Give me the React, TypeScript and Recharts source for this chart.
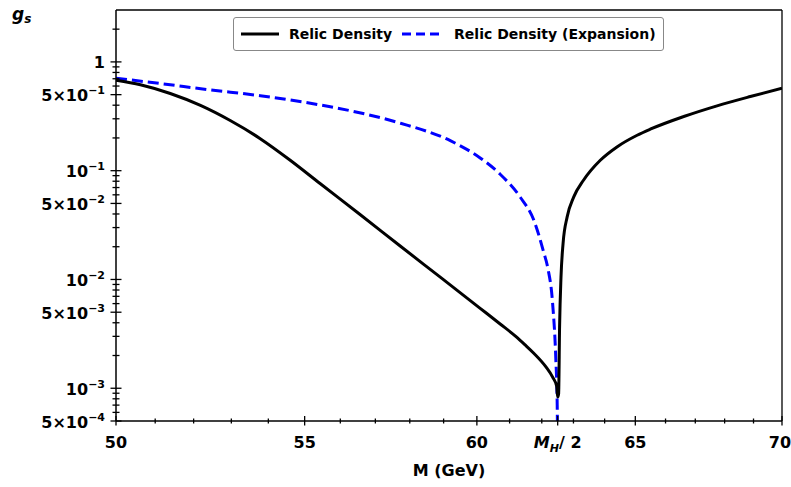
import { LineChart, Line, XAxis, YAxis, ReferenceLine } from 'recharts'

const FONT = '"DejaVu Sans", "Liberation Sans", sans-serif'

// Relic Density (solid black) : M in GeV, g_s
const relicM = [
  50.0, 50.62, 51.39, 52.18, 52.97, 53.78, 54.6, 55.43, 56.57, 57.72, 58.9, 60.1, 60.71, 61.19, 61.47, 61.75,
  62.125, 62.345, 62.47, 62.5,
  62.53, 62.56, 62.605, 62.67, 62.8, 63.01, 63.32, 63.86, 64.4, 65.06, 65.49, 66.61, 67.74, 68.89, 70.0,
]
const relicG = [
  0.679, 0.616, 0.512, 0.398, 0.289, 0.197, 0.1248, 0.0762, 0.0394, 0.0203, 0.0105, 0.00543, 0.0039, 0.003, 0.00252, 0.0021,
  0.00158, 0.00126, 0.00104, 0.00083,
  0.00089, 0.00366, 0.01054, 0.0214, 0.0376, 0.0574, 0.0817, 0.1247, 0.1654, 0.2118, 0.2405, 0.3147, 0.3947, 0.4807, 0.573,
]

// Relic Density (Expansion), dashed blue
const expM = [50.0, 51.13, 52.4, 53.78, 55.16, 56.28, 57.73, 59.2, 60.1, 60.71, 61.33, 61.75, 62.06, 62.19, 62.34, 62.44, 62.485, 62.5]
const expG = [0.708, 0.633, 0.555, 0.489, 0.417, 0.356, 0.273, 0.1886, 0.131, 0.0928, 0.057, 0.0352, 0.0178, 0.0127, 0.00604, 0.00189, 0.0007, 0.0002]

const xTicks = [50, 51, 52, 53, 54, 55, 56, 57, 58, 59, 60, 61, 62, 62.5, 63, 64, 65, 66, 67, 68, 69, 70]
const xMajor = [50, 55, 60, 62.5, 65, 70]

const yTicks = [
  0.0005, 0.0006, 0.0007, 0.0008, 0.0009,
  0.001, 0.002, 0.003, 0.004, 0.005, 0.006, 0.007, 0.008, 0.009,
  0.01, 0.02, 0.03, 0.04, 0.05, 0.06, 0.07, 0.08, 0.09,
  0.1, 0.2, 0.3, 0.4, 0.5, 0.6, 0.7, 0.8, 0.9,
  1, 2,
]
// base text + exponent
const yLabels: Record<string, [string, string]> = {
  '1': ['1', ''],
  '0.5': ['5×10', '−1'],
  '0.1': ['10', '−1'],
  '0.05': ['5×10', '−2'],
  '0.01': ['10', '−2'],
  '0.005': ['5×10', '−3'],
  '0.001': ['10', '−3'],
  '0.0005': ['5×10', '−4'],
}

const relic = relicM.map((m, i) => ({ m, g: relicG[i] }))
const expansion = expM.map((m, i) => ({ m, g: expG[i] }))

const XTick = (props: any) => {
  const { x, y, payload } = props
  const v = payload.value
  const major = xMajor.includes(v)
  // last label sits on the page edge, nudge it in a bit
  const tx = v === 70 ? x - 2 : x
  return (
    <g>
      <line x1={x} x2={x} y1={major ? y - 5 : y - 2.5} y2={major ? y + 4.5 : y + 2.5} stroke="#000" strokeWidth={1.3} />
      {major && (v === 62.5 ? (
        <text x={x} y={y + 27} textAnchor="middle" fontFamily={FONT} fontWeight="bold" fontSize={16} fill="#000">
          <tspan fontStyle="italic">M</tspan>
          <tspan fontStyle="italic" fontSize={11} dy={4}>H</tspan>
          <tspan dy={-4}>/ 2</tspan>
        </text>
      ) : (
        <text x={tx} y={y + 27} textAnchor="middle" fontFamily={FONT} fontWeight="bold" fontSize={16} fill="#000">{v}</text>
      ))}
    </g>
  )
}

const YTick = (props: any) => {
  const { x, y, payload } = props
  const lab = yLabels[String(payload.value)]
  const len = lab ? 5.5 : 3.5
  return (
    <g>
      <line x1={x - len} x2={x + len} y1={y} y2={y} stroke="#000" strokeWidth={1.3} />
      {lab && (
        <text x={x - 11} y={y + 6.5} textAnchor="end" fontFamily={FONT} fontWeight="bold" fontSize={16} fill="#000">
          <tspan>{lab[0]}</tspan>
          {lab[1] && <tspan dy={-7} fontSize={11}>{lab[1]}</tspan>}
        </text>
      )}
    </g>
  )
}

export default function App() {
  return (
    <div style={{ position: 'absolute', left: 0, top: 0, width: 791, height: 487, background: '#fff' }}>
      <LineChart width={791} height={487} margin={{ top: 10, right: 9, bottom: 0, left: 0 }}>
        <XAxis
          dataKey="m" type="number" scale="log" domain={[50, 70]} allowDataOverflow
          ticks={xTicks} interval={0} tick={<XTick />} tickLine={false} tickSize={0} tickMargin={0}
          axisLine={{ stroke: '#000', strokeWidth: 1.5 }} height={66}
          label={{
            content: ({ viewBox }: any) => (
              <text x={viewBox.x + viewBox.width / 2} y={viewBox.y + 55} textAnchor="middle"
                fontFamily={FONT} fontWeight="bold" fontSize={16} fill="#000">M (GeV)</text>
            ),
          }}
        />
        <YAxis
          type="number" scale="log" domain={[0.0005, 3]} allowDataOverflow
          ticks={yTicks} interval={0} tick={<YTick />} tickLine={false} tickSize={0} tickMargin={0}
          axisLine={{ stroke: '#000', strokeWidth: 1.5 }} width={116}
          label={{
            content: ({ viewBox }: any) => (
              <text x={viewBox.x + 12} y={viewBox.y + 10} fontFamily={FONT} fontWeight="bold" fontStyle="italic" fontSize={17} fill="#000">
                <tspan>g</tspan>
                <tspan dy={3} fontSize={12}>s</tspan>
              </text>
            ),
          }}
        />
        <ReferenceLine y={3} stroke="#000" strokeWidth={1.3} />
        <ReferenceLine x={70} stroke="#000" strokeWidth={1.3} />
        <Line data={expansion} dataKey="g" type="monotone" stroke="#0000ff" strokeWidth={3}
          strokeDasharray="11 5" dot={false} isAnimationActive={false} />
        <Line data={relic} dataKey="g" type="monotone" stroke="#000" strokeWidth={3}
          dot={false} isAnimationActive={false} />
      </LineChart>

      <div style={{
        position: 'absolute', left: 233, top: 17, width: 431, height: 34, boxSizing: 'border-box',
        border: '1px solid #888', borderRadius: 3, background: '#fff',
        display: 'flex', alignItems: 'center', paddingLeft: 7,
        fontFamily: FONT, fontWeight: 'bold', fontSize: 14, color: '#000', whiteSpace: 'nowrap',
      }}>
        <svg width={38} height={6}><line x1={0} x2={38} y1={3} y2={3} stroke="#000" strokeWidth={3} /></svg>
        <span style={{ marginLeft: 10 }}>Relic Density</span>
        <svg width={38} height={6} style={{ marginLeft: 10 }}><line x1={0} x2={38} y1={3} y2={3} stroke="#0000ff" strokeWidth={3} strokeDasharray="9 5" /></svg>
        <span style={{ marginLeft: 14 }}>Relic Density (Expansion)</span>
      </div>
    </div>
  )
}
